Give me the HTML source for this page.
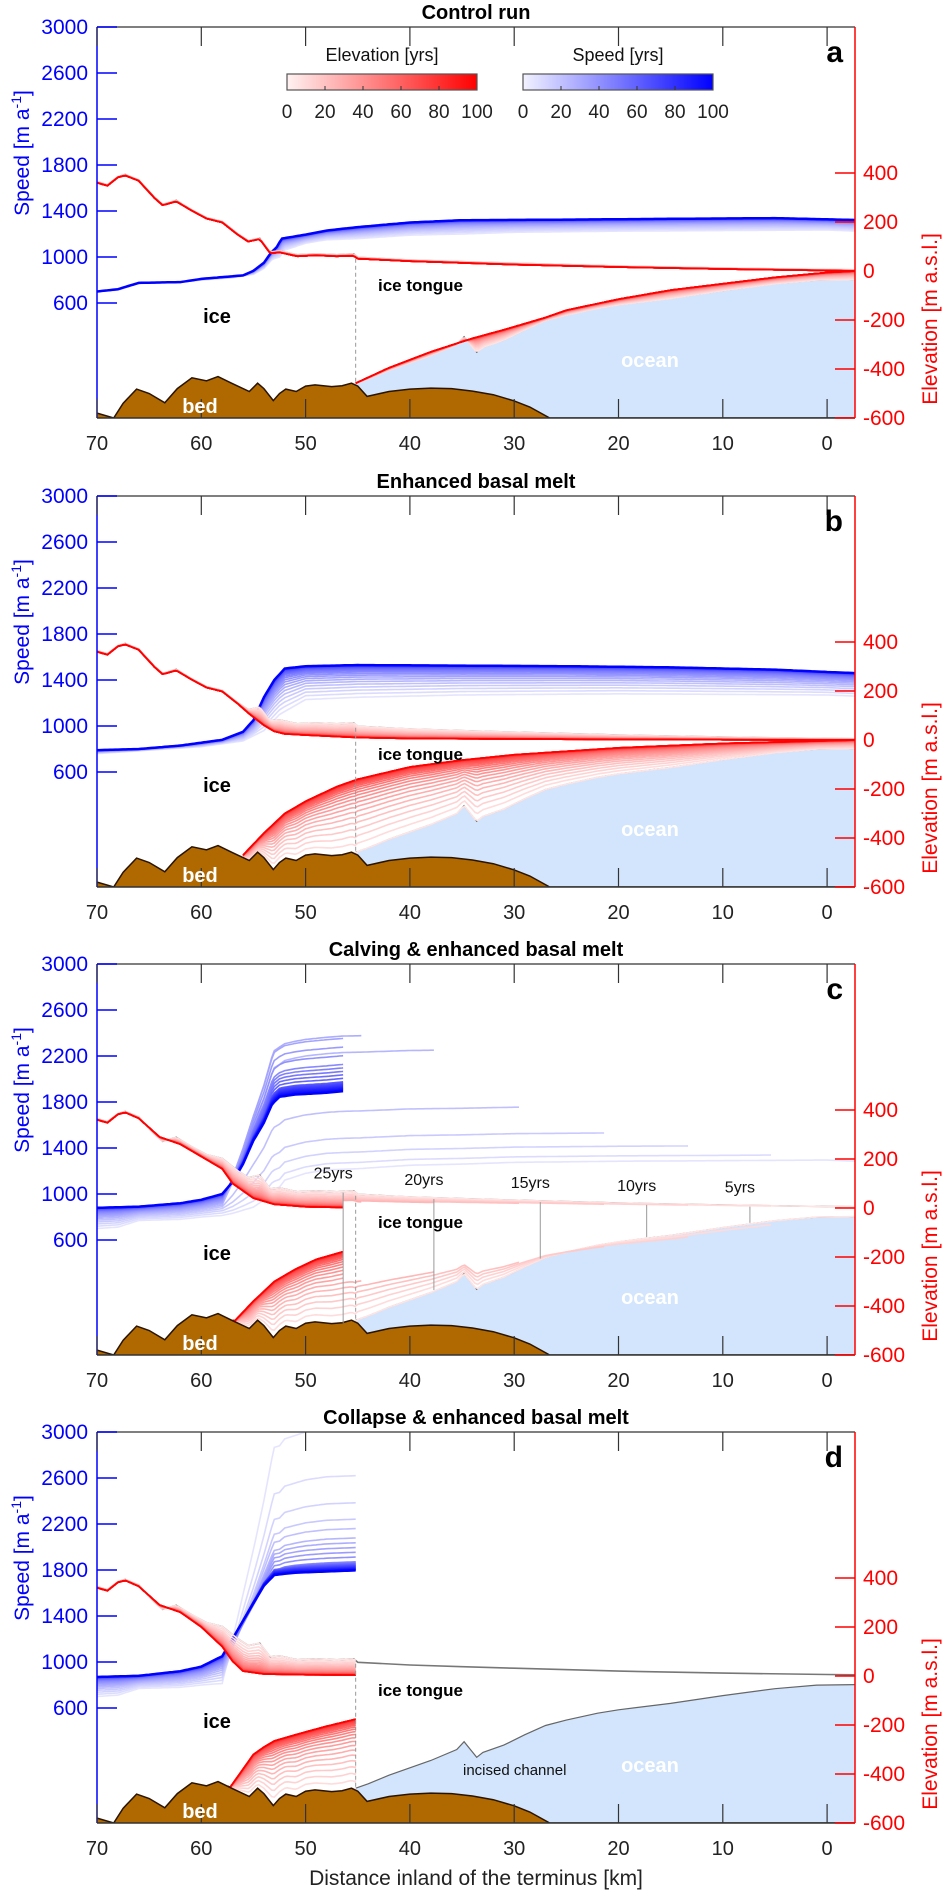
<!DOCTYPE html>
<html><head><meta charset="utf-8"><style>
html,body{margin:0;padding:0;background:#fff}
svg{display:block;font-family:"Liberation Sans",Arial,sans-serif}
</style></head><body>
<svg id="fig" xmlns="http://www.w3.org/2000/svg" width="945" height="1893" viewBox="0 0 945 1893"></svg>
<script>
// ---------- shared data ----------
const xTicks = [70,60,50,40,30,20,10,0];
const speedTicks = [3000,2600,2200,1800,1400,1000,600];
const elevTicks = [400,200,0,-200,-400,-600];
const cbTicks = [0,20,40,60,80,100];
const panelTitles = ["Control run","Enhanced basal melt","Calving & enhanced basal melt","Collapse & enhanced basal melt"];
const panelLetters = ["a","b","c","d"];
const panelTops = [27,496,964,1432];

const bedKm   = [70.5,70,68.4,67.5,66.2,65,63.5,62.3,60.9,59.5,58.4,57,55.4,54.6,54,53.1,52.5,51.9,50.9,50,49.1,47.5,46.5,45.6,45,44.1,43.5,42,40,38,36,34,32,30,28.5,26.6,20,-3];
const bedElev = [-560,-580,-600,-540,-482,-500,-538,-480,-436,-448,-431,-460,-492,-458,-480,-529,-500,-482,-492,-470,-465,-472,-468,-458,-470,-512,-506,-492,-482,-478,-480,-490,-505,-530,-555,-600,-600,-600];

const obsSurfKm   = [70,69,68,67.3,66,64.5,63.7,62.4,61,59.5,58,56.5,55.5,54.4,53.4,52.5,50.8,49,47,45.4,45,40,35,30,20,10,0,-2.7];
const obsSurfElev = [365,352,385,394,372,302,272,288,252,218,202,152,124,134,78,82,66,70,66,70,56,45,38,32,20,12,6,5];
const obsBaseKm   = [45.2,44,42,38,35.5,34.8,34.2,33.6,33,31,29,27,25,22,20,15,10,5,1,-2.7];
const obsBaseElev = [-458,-440,-405,-345,-300,-268,-300,-332,-312,-282,-240,-202,-180,-152,-138,-112,-80,-52,-37,-35];

// ---------- panel a ----------
const aSpeedInitKm = [70,68,66,62,60,57,55,54,53.2,52.5,52,50,48,45,40,35,30,20,10,0,-2.7];
const aSpeedInitVal= [700,712,770,780,800,820,850,900,980,1000,1060,1120,1150,1160,1190,1200,1215,1225,1230,1235,1225];
const aSpeedFinKm  = [70,68,66,62,60,56,55,54,53.3,52.8,52.3,50,48,45,40,35,25,15,5,-2.7];
const aSpeedFinVal = [700,720,775,782,810,840,880,950,1040,1080,1160,1195,1230,1260,1300,1320,1325,1332,1338,1322];
const aSurfFinKm   = [70,69,68,67.3,66,64.5,63.7,62.4,61,59.5,58,56.5,55.5,54.4,53.4,52.5,50.8,49,47,45.4,45,40,30,20,10,0,-2.7];
const aSurfFinVal  = [360,348,382,390,368,298,268,284,248,214,198,148,120,130,72,76,60,64,60,62,50,40,26,16,8,2,0];
const aBaseFinKm   = [45.2,42,38,34,31,27,25,20,15,10,5,0,-2.7];
const aBaseFinVal  = [-458,-395,-330,-275,-240,-190,-160,-115,-78,-52,-26,-6,0];

// ---------- panel b ----------
const bSpeedInitKm = [70,60,56,54,52.5,50,45,35,20,0,-2.7];
const bSpeedInitVal= [760,820,870,960,1100,1230,1250,1270,1280,1270,1260];
const bSpeedFinKm  = [70,66,62,58,56,55,54,53,52,50,45,35,25,15,10,5,0,-2.7];
const bSpeedFinVal = [790,800,830,880,950,1050,1250,1400,1500,1520,1530,1525,1520,1510,1500,1490,1470,1460];
const bSurfFinKm   = [70,69,68,67.3,66,64.5,63.7,62.4,61,59.5,58,56.5,55.5,54,53,52,50,47,45,40,30,20,10,0,-2.7];
const bSurfFinVal  = [360,348,382,390,368,298,268,284,248,214,198,148,110,60,35,25,20,14,10,6,4,2,1,0,0];
const bBaseFinKm   = [56,54,52,50,47,45,40,35,30,20,10,0,-2.7];
const bBaseFinVal  = [-470,-380,-300,-250,-190,-160,-110,-82,-60,-32,-14,-3,0];

// ---------- panel c ----------
const cSpeedFinKm  = [70,66,62,60,58,57,56,55,54,53.2,52.5,51,48,46.4];
const cSpeedFinVal = [880,890,920,950,1000,1100,1250,1450,1600,1760,1820,1840,1855,1870];
const cTargetYears = [0,5,10,15,20,25,40,60,100];
const cTargetSpeed = [1180,1250,1380,1560,2200,2380,2100,1950,1870];
const cTermYears   = [0,5,10,15,20,25,100];
const cTermKm      = [-2.7,7.4,17.3,27.5,37.7,46.4,46.4];
const cTermLabels  = ["5yrs","10yrs","15yrs","20yrs","25yrs"];
const cTermLabelKm = [7.4,17.3,27.5,37.7,46.4];
const cSurfFinKm   = [70,69,68,67.3,66,64,62,60,58,57,55,53,50,46.4];
const cSurfFinVal  = [360,348,382,390,366,290,260,210,160,100,40,15,5,2];
const cBaseFinKm   = [57,55,53,51,49,46.4];
const cBaseFinVal  = [-470,-380,-300,-250,-210,-178];

// ---------- panel d ----------
const dSpeedFinKm  = [70,66,62,60,58,57,56,55,54,53,51,48,45.2];
const dSpeedFinVal = [870,880,920,960,1050,1200,1350,1500,1650,1740,1760,1770,1780];
const dTargetYears = [0,3,6,10,20,40,100];
const dTargetSpeed = [3000,2650,2450,2250,2050,1850,1780];
const dTermYears   = [0,100];
const dTermKm      = [45.2,45.2];
const dSurfFinKm   = [70,69,68,67.3,66,64,62,60,58,57,56,54,50,45.2];
const dSurfFinVal  = [360,348,382,390,366,290,260,200,120,60,20,8,5,4];
const dBaseFinKm   = [57.5,56,55,54,53,51,48,45.2];
const dBaseFinVal  = [-470,-380,-320,-290,-265,-240,-205,-176];

// ---------- helpers ----------
const NS = "http://www.w3.org/2000/svg";
const svg = document.getElementById('fig');
const L = 97, R = 855, H = 391;
const X  = km => L + (70 - km) * 10.43;
const YE = (T, e) => T + H - (e + 600) * 0.245;
const YS = (T, s) => T + (3000 - s) * 0.115;
function mk(tag, attrs, parent) {
  const el = document.createElementNS(NS, tag);
  for (const k in attrs) el.setAttribute(k, attrs[k]);
  (parent || svg).appendChild(el);
  return el;
}
function interp(ks, vs, km) {
  if (km > ks[0] || km < ks[ks.length - 1]) return null;
  for (let i = 0; i < ks.length - 1; i++) {
    if (km <= ks[i] && km >= ks[i + 1]) {
      const f = (ks[i] - km) / ((ks[i] - ks[i + 1]) || 1);
      return vs[i] + f * (vs[i + 1] - vs[i]);
    }
  }
  return vs[vs.length - 1];
}
function interpA(xs, ys, x) {
  if (x <= xs[0]) return ys[0];
  for (let i = 0; i < xs.length - 1; i++) if (x <= xs[i + 1]) return ys[i] + (x - xs[i]) / (xs[i + 1] - xs[i]) * (ys[i + 1] - ys[i]);
  return ys[ys.length - 1];
}
const bedAt = km => interp(bedKm, bedElev, Math.max(-3, Math.min(70.5, km)));
function grid(from, to) { const g = []; for (let k = from; k >= to - 1e-9; k -= 0.25) g.push(k); if (g[g.length-1] > to) g.push(to); return g; }
function pathD(pts) { return pts.map((p, i) => (i ? 'L' : 'M') + p[0].toFixed(1) + ',' + p[1].toFixed(1)).join(''); }
const YEARS = []; for (let y = 0; y <= 100; y += 4) YEARS.push(y);
const tOf = y => 1 - Math.pow(1 - y / 100, 3);
const redC  = f => { const v = Math.round(228 * (1 - f)); return `rgb(255,${v},${v})`; };
const blueC = f => { const v = Math.round(228 * (1 - f)); return `rgb(${v},${v},255)`; };

const panels = [
  {sI:[aSpeedInitKm,aSpeedInitVal], sF:[aSpeedFinKm,aSpeedFinVal], surfF:[aSurfFinKm,aSurfFinVal], baseF:[aBaseFinKm,aBaseFinVal], term:[[0,100],[-2.7,-2.7]], target:null},
  {sI:[bSpeedInitKm,bSpeedInitVal], sF:[bSpeedFinKm,bSpeedFinVal], surfF:[bSurfFinKm,bSurfFinVal], baseF:[bBaseFinKm,bBaseFinVal], term:[[0,100],[-2.7,-2.7]], target:null},
  {sI:[aSpeedInitKm,aSpeedInitVal], sF:[cSpeedFinKm,cSpeedFinVal], surfF:[cSurfFinKm,cSurfFinVal], baseF:[cBaseFinKm,cBaseFinVal], term:[cTermYears,cTermKm], target:[cTargetYears,cTargetSpeed]},
  {sI:[aSpeedInitKm,aSpeedInitVal], sF:[dSpeedFinKm,dSpeedFinVal], surfF:[dSurfFinKm,dSurfFinVal], baseF:[dBaseFinKm,dBaseFinVal], term:[dTermYears,dTermKm], target:[dTargetYears,dTargetSpeed]},
];

panels.forEach((P, pi) => {
  const T = panelTops[pi];
  const g = mk('g', {}, svg);
  
  
  const clipId = 'clip' + pi;
  const cp = mk('clipPath', {id: clipId}, g);
  mk('rect', {x: L, y: T, width: R - L, height: H}, cp);
  const plot = mk('g', {'clip-path': `url(#${clipId})`}, g);

  const oceanPts = obsBaseKm.map((k, i) => [X(k), YE(T, obsBaseElev[i])]);
  oceanPts.push([R + 5, YE(T, obsBaseElev[obsBaseElev.length-1])], [R + 5, T + H + 2], [X(45.2), T + H + 2]);
  const ocean = mk('path', {d: pathD(oceanPts) + 'Z', fill: '#d2e5fc', stroke: 'none'}, plot);
  
  

  const [tyY, tyK] = P.term;
  YEARS.forEach(y => {
    const t = tOf(y), f = y / 100;
    const term = interpA(tyY, tyK, y);
    let extra = 0;
    if (P.target) {
      const base50 = (1 - t) * interp(P.sI[0], P.sI[1], 50) + t * interp(P.sF[0], P.sF[1], 50);
      extra = interpA(P.target[0], P.target[1], y) - base50;
    }
    const pts = [];
    grid(70, term).forEach(km => {
      const a = interp(P.sI[0], P.sI[1], km);
      let b = interp(P.sF[0], P.sF[1], km);
      if (b === null) b = P.sF[1][P.sF[1].length - 1];
      const shape = km >= 58 ? 0 : km <= 53 ? 1 : (58 - km) / 5;
      const v = (1 - t) * a + t * b + extra * shape;
      pts.push([X(km), YS(T, v)]);
    });
    const ln = mk('path', {d: pathD(pts), fill: 'none', stroke: blueC(f), 'stroke-width': y === 100 ? 2.5 : 1.6}, plot);
    
    
  });

  const gs = mk('path', {d: pathD(obsSurfKm.map((k, i) => [X(k), YE(T, obsSurfElev[i])])), fill: 'none', stroke: '#777', 'stroke-width': 1.6}, plot);
  
  
  const gb = mk('path', {d: pathD(obsBaseKm.map((k, i) => [X(k), YE(T, obsBaseElev[i])])), fill: 'none', stroke: '#666', 'stroke-width': 1.2}, plot);
  
  

  const baseStart = P.baseF[0][0];
  YEARS.forEach(y => {
    const t = tOf(y), f = y / 100;
    const term = interpA(tyY, tyK, y);
    const sp = grid(70, term).map(km => {
      const a = interp(obsSurfKm, obsSurfElev, km);
      let b = interp(P.surfF[0], P.surfF[1], km); if (b === null) b = P.surfF[1][P.surfF[1].length-1];
      return [X(km), YE(T, (1 - t) * a + t * b)];
    });
    const s = mk('path', {d: pathD(sp), fill: 'none', stroke: redC(f), 'stroke-width': 1.6}, plot);
    
    
    if (term < baseStart) {
      const bp = grid(baseStart, term).map(km => {
        const a = km > 45.2 ? bedAt(km) : interp(obsBaseKm, obsBaseElev, km);
        let b = interp(P.baseF[0], P.baseF[1], km); if (b === null) b = P.baseF[1][P.baseF[1].length-1];
        return [X(km), YE(T, Math.max(bedAt(km), (1 - t) * a + t * b))];
      });
      const bl = mk('path', {d: pathD(bp), fill: 'none', stroke: redC(f), 'stroke-width': 1.6}, plot);
      
      
    }
  });

  const bedPts = bedKm.map((k, i) => [X(k), YE(T, bedElev[i])]);
  const bedPoly = pathD(bedPts) + `L${R + 5},${T + H + 2}L${L - 5},${T + H + 2}Z`;
  const bed = mk('path', {d: bedPoly, fill: '#b06800', stroke: 'none'}, plot);
  
  
  mk('path', {d: pathD(bedPts), fill: 'none', stroke: '#2a1400', 'stroke-width': 1.5}, plot);

  const dl = mk('line', {x1: X(45.2), x2: X(45.2), y1: YE(T, 50), y2: YE(T, -458), stroke: '#999', 'stroke-width': 1, 'stroke-dasharray': '4,3'}, plot);
  
  

  if (pi === 2) {
    cTermLabelKm.forEach((km, i) => {
      const top = interp(obsSurfKm, obsSurfElev, km) - 5;
      const bot = km > 45.2 ? -470 : interp(obsBaseKm, obsBaseElev, km) + 5;
      const v = mk('line', {x1: X(km), x2: X(km), y1: YE(T, top), y2: YE(T, bot), stroke: '#999', 'stroke-width': 1}, plot);
      
      
      const tx = mk('text', {x: X(km) - 10, y: YE(T, top) - 14, 'font-size': 16, 'text-anchor': 'middle', fill: '#111'}, g);
      tx.textContent = cTermLabels[i];
      
      
    });
  }

  mk('line', {x1: L, x2: R, y1: T, y2: T, stroke: '#555', 'stroke-width': 1.5}, g);
  mk('line', {x1: L, x2: R, y1: T + H, y2: T + H, stroke: '#333', 'stroke-width': 1.5}, g);
  mk('line', {x1: L, x2: L, y1: T, y2: T + H, stroke: '#0000ff', 'stroke-width': 1.5}, g);
  mk('line', {x1: R, x2: R, y1: T, y2: T + H, stroke: '#ff0000', 'stroke-width': 1.5}, g);
  xTicks.forEach(v => {
    const x = X(v);
    mk('line', {x1: x, x2: x, y1: T, y2: T + 19, stroke: '#333', 'stroke-width': 1.2}, g);
    mk('line', {x1: x, x2: x, y1: T + H, y2: T + H - 19, stroke: '#333', 'stroke-width': 1.2}, g);
    const t = mk('text', {x: x, y: T + H + 32, 'font-size': 20, 'text-anchor': 'middle', fill: '#222'}, g);
    t.textContent = v;
    
    
  });
  speedTicks.forEach(v => {
    const y = YS(T, v);
    mk('line', {x1: L, x2: L + 20, y1: y, y2: y, stroke: '#0000ff', 'stroke-width': 1.5}, g);
    const t = mk('text', {x: 88, y: y + 7, 'font-size': 21, 'text-anchor': 'end', fill: '#0000ff'}, g);
    t.textContent = v;
    
    
  });
  elevTicks.forEach(v => {
    const y = YE(T, v);
    mk('line', {x1: R - 20, x2: R, y1: y, y2: y, stroke: '#ff0000', 'stroke-width': 1.5}, g);
    const t = mk('text', {x: 863, y: y + 7, 'font-size': 21, fill: '#ff0000'}, g);
    t.textContent = v;
    
    
  });

  const sl = mk('text', {transform: `translate(29,${T + 126}) rotate(-90)`, 'font-size': 21, 'text-anchor': 'middle', fill: '#0000ff'}, g);
  sl.innerHTML = 'Speed [m a<tspan dy="-8" font-size="14">-1</tspan><tspan dy="8">]</tspan>';
  
  
  const el = mk('text', {transform: `translate(937,${T + 292}) rotate(-90)`, 'font-size': 21, 'text-anchor': 'middle', fill: '#ff0000'}, g);
  el.textContent = 'Elevation [m a.s.l.]';
  
  

  const ti = mk('text', {x: 476, y: T - 8, 'font-size': 20, 'font-weight': 'bold', 'text-anchor': 'middle', fill: '#000'}, g);
  ti.textContent = panelTitles[pi];
  
  
  const le = mk('text', {x: 843, y: T + 35, 'font-size': 30, 'font-weight': 'bold', 'text-anchor': 'end', fill: '#000'}, g);
  le.textContent = panelLetters[pi];
  
  

  const labels = [
    ['ice', 217, T + 296, 20, '#000', 'middle', 'ice-label'],
    ['ice tongue', 378, T + 264, 17, '#000', 'start', 'ice-tongue-label'],
    ['ocean', 650, T + 340, 20, '#fff', 'middle', 'ocean-label'],
    ['bed', 200, T + 386, 20, '#fff', 'middle', 'bed-label'],
  ];
  labels.forEach(([txt, x, y, fs, col, anc, nm]) => {
    const t = mk('text', {x, y, 'font-size': fs, 'font-weight': 'bold', 'text-anchor': anc, fill: col}, g);
    t.textContent = txt;
    
    
  });
  if (pi === 3) {
    const t = mk('text', {x: 463, y: T + 343, 'font-size': 15, fill: '#111'}, g);
    t.textContent = 'incised channel';
    
    
  }
});

const defs = mk('defs', {});
const gr1 = mk('linearGradient', {id: 'gRed'}, defs);
mk('stop', {offset: '0', 'stop-color': '#fff2f2'}, gr1); mk('stop', {offset: '1', 'stop-color': '#ff0000'}, gr1);
const gr2 = mk('linearGradient', {id: 'gBlue'}, defs);
mk('stop', {offset: '0', 'stop-color': '#f2f2ff'}, gr2); mk('stop', {offset: '1', 'stop-color': '#0000ff'}, gr2);
[[287, 'gRed', 'Elevation [yrs]', 'elevation-colorbar'], [523, 'gBlue', 'Speed [yrs]', 'speed-colorbar']].forEach(([x0, gid, title, nm]) => {
  const w = 190;
  const r = mk('rect', {x: x0, y: 74, width: w, height: 16, fill: `url(#${gid})`, stroke: '#555', 'stroke-width': 1.2});
  
  
  const t = mk('text', {x: x0 + w / 2, y: 61, 'font-size': 18, 'text-anchor': 'middle', fill: '#111'});
  t.textContent = title;
  
  
  cbTicks.forEach(v => {
    const x = x0 + v / 100 * w;
    if (v > 0 && v < 100) mk('line', {x1: x, x2: x, y1: 90, y2: 86, stroke: '#333'});
    const tl = mk('text', {x, y: 118, 'font-size': 19, 'text-anchor': 'middle', fill: '#222'});
    tl.textContent = v;
    
    
  });
});

const xt = mk('text', {x: 476, y: 1885, 'font-size': 21, 'text-anchor': 'middle', fill: '#222'});
xt.textContent = 'Distance inland of the terminus [km]';


</script>
</body></html>
